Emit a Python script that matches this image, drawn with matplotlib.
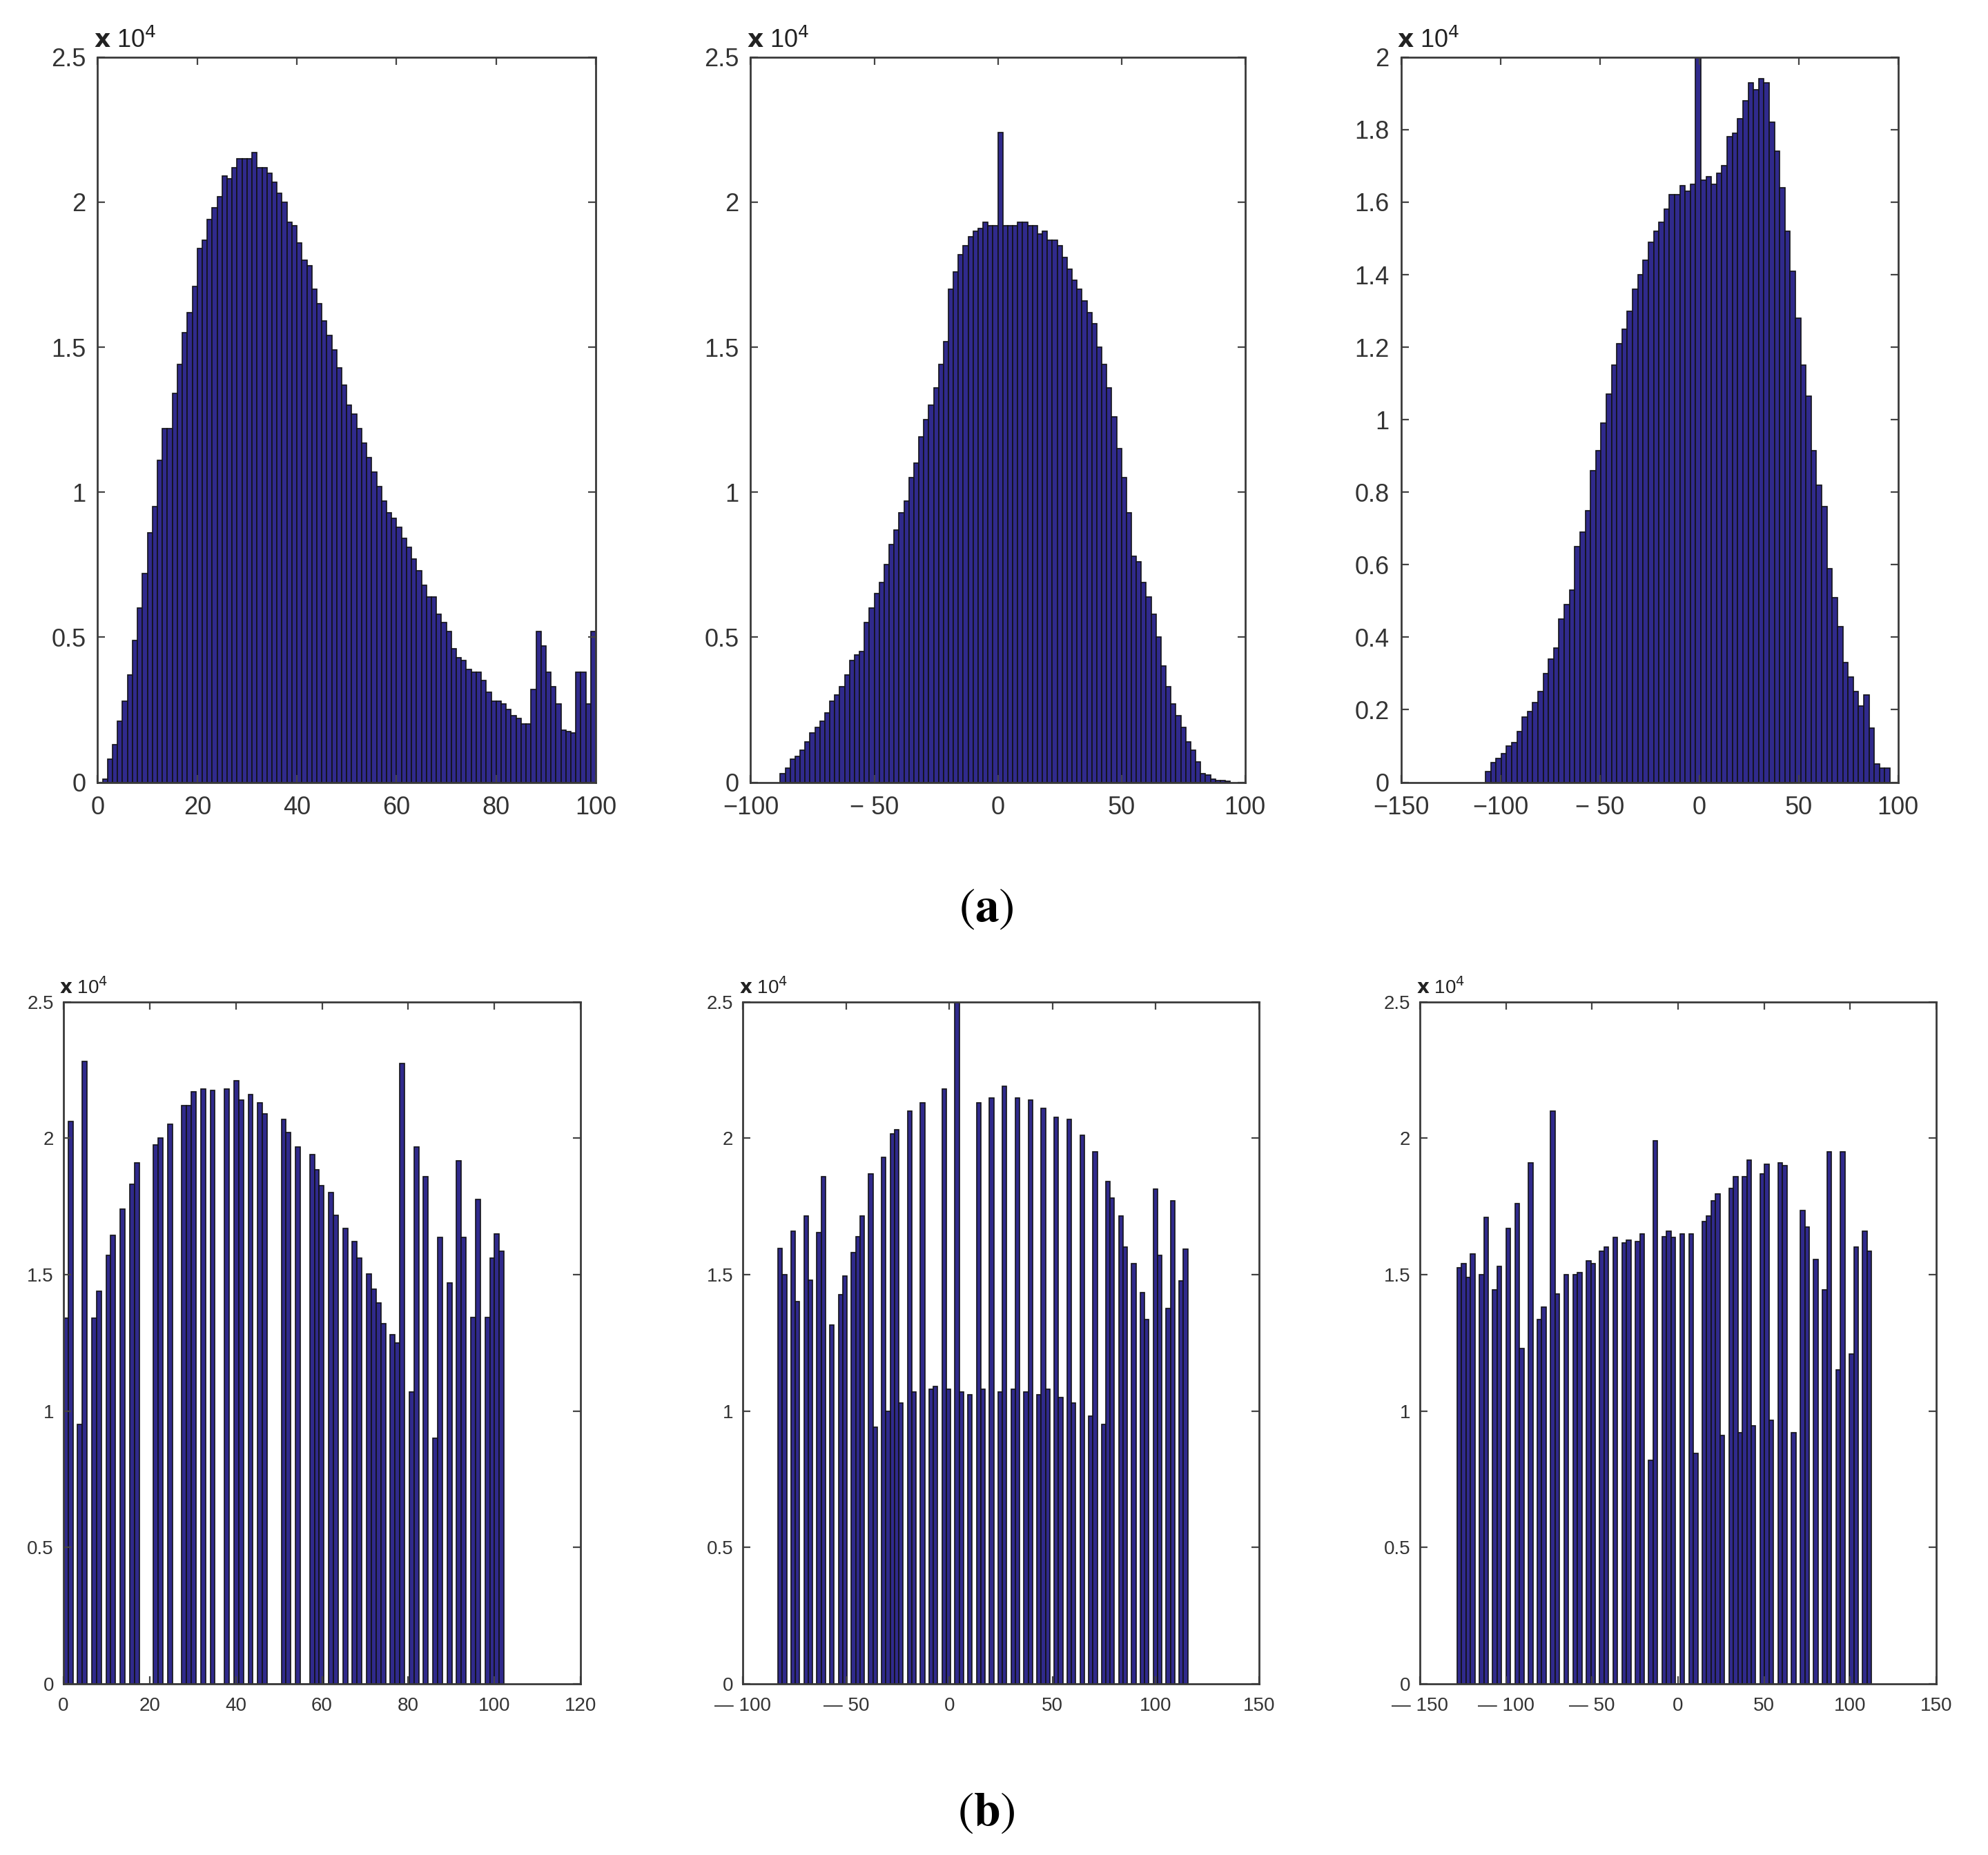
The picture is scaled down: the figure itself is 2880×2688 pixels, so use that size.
import matplotlib
matplotlib.use("Agg")
import matplotlib.pyplot as plt
import numpy as np

################################################## Data (counts in units of 10^4)

# (a) histograms, left to right
a1_range = (0, 100)
a1_counts = [
    0.0, 0.01, 0.08, 0.13, 0.21, 0.28, 0.37, 0.49, 0.60, 0.72,
    0.86, 0.95, 1.11, 1.22, 1.22, 1.34, 1.44, 1.55, 1.62, 1.71,
    1.84, 1.87, 1.94, 1.98, 2.02, 2.09, 2.08, 2.12, 2.15, 2.15,
    2.15, 2.17, 2.12, 2.12, 2.10, 2.07, 2.03, 2.00, 1.93, 1.92,
    1.86, 1.80, 1.78, 1.70, 1.65, 1.59, 1.54, 1.49, 1.43, 1.37,
    1.30, 1.27, 1.22, 1.17, 1.12, 1.07, 1.02, 0.97, 0.93, 0.91,
    0.88, 0.84, 0.81, 0.77, 0.73, 0.68, 0.64, 0.64, 0.58, 0.55,
    0.52, 0.46, 0.43, 0.42, 0.39, 0.38, 0.38, 0.35, 0.31, 0.28,
    0.28, 0.27, 0.25, 0.23, 0.22, 0.20, 0.20, 0.32, 0.52, 0.47,
    0.38, 0.33, 0.27, 0.18, 0.175, 0.17, 0.38, 0.38, 0.27, 0.52,
]

a2_range = (-88, 94)
a2_counts = [
    0.03, 0.05, 0.08, 0.09, 0.11, 0.14, 0.17, 0.19, 0.21, 0.24,
    0.28, 0.30, 0.33, 0.37, 0.42, 0.44, 0.45, 0.55, 0.60, 0.65,
    0.69, 0.75, 0.82, 0.87, 0.93, 0.97, 1.05, 1.10, 1.19, 1.25,
    1.30, 1.36, 1.44, 1.52, 1.70, 1.76, 1.82, 1.85, 1.88, 1.90,
    1.91, 1.93, 1.92, 1.92, 2.24, 1.92, 1.92, 1.92, 1.93, 1.93,
    1.92, 1.92, 1.89, 1.90, 1.87, 1.87, 1.85, 1.81, 1.77, 1.73,
    1.70, 1.66, 1.62, 1.58, 1.50, 1.44, 1.36, 1.26, 1.15, 1.05,
    0.93, 0.78, 0.76, 0.69, 0.64, 0.58, 0.50, 0.40, 0.33, 0.27,
    0.23, 0.19, 0.14, 0.11, 0.07, 0.03, 0.025, 0.01, 0.005, 0.005,
    0.003,
]

a3_range = (-107.5, 96)
a3_counts = [
    0.03, 0.055, 0.065, 0.08, 0.10, 0.11, 0.14, 0.18, 0.195, 0.22,
    0.25, 0.30, 0.34, 0.37, 0.45, 0.49, 0.53, 0.65, 0.69, 0.75,
    0.86, 0.915, 0.99, 1.07, 1.15, 1.21, 1.25, 1.30, 1.36, 1.40,
    1.44, 1.49, 1.52, 1.545, 1.58, 1.62, 1.62, 1.645, 1.63, 1.65,
    2.20, 1.66, 1.67, 1.65, 1.68, 1.70, 1.78, 1.79, 1.83, 1.88,
    1.93, 1.91, 1.94, 1.93, 1.82, 1.74, 1.64, 1.52, 1.41, 1.28,
    1.15, 1.065, 0.915, 0.82, 0.76, 0.59, 0.51, 0.43, 0.33, 0.29,
    0.25, 0.21, 0.24, 0.15, 0.05, 0.04, 0.04,
]

# (b) histograms, left to right (zeros are the empty bins)
b1_range = (0, 102.2)
b1_counts = [
    1.34, 2.06, 0, 0.95, 2.28, 0, 1.34, 1.44, 0, 1.57,
    1.645, 0, 1.74, 0, 1.83, 1.91, 0, 0, 0, 1.975,
    2.0, 0, 2.05, 0, 0, 2.12, 2.12, 2.17, 0, 2.18,
    0, 2.175, 0, 0, 2.18, 0, 2.21, 2.14, 0, 2.16,
    0, 2.13, 2.09, 0, 0, 0, 2.07, 2.02,
    0, 1.967, 0, 0, 1.94, 1.884, 1.826, 0, 1.80, 1.717,
    0, 1.67, 0, 1.62, 1.56, 0, 1.503, 1.446, 1.397, 1.32,
    0, 1.28, 1.25, 2.273, 0, 1.07, 1.967, 0, 1.86, 0,
    0.90, 1.635, 0, 1.47, 0, 1.917, 1.635, 0, 1.344, 1.776,
    0, 1.344, 1.56, 1.65, 1.585,
]

b2_range = (-83, 115.5)
b2_counts = [
    1.596, 1.50, 0, 1.66, 1.40, 0, 1.715, 1.48, 0, 1.655,
    1.86, 0, 1.315, 0, 1.426, 1.495, 0, 1.58, 1.64, 1.715,
    0, 1.87, 0.94, 0, 1.93, 1.0, 2.016, 2.03, 1.03, 0,
    2.10, 1.07, 0, 2.13, 0, 1.08, 1.09, 0, 2.18, 1.08,
    0, 2.60, 1.07, 0, 1.06, 0, 2.13,
    1.08, 0, 2.147, 0, 1.07, 2.19, 0, 1.08, 2.147, 0,
    1.07, 2.14, 0, 1.06, 2.11, 1.08, 0, 2.077, 1.05, 0,
    2.07, 1.03, 0, 2.01, 0, 0.98, 1.95, 0, 0.95, 1.84,
    1.78, 0, 1.715, 1.60, 0, 1.54, 0, 1.435, 1.336, 0,
    1.814, 1.57, 0, 1.375, 1.77, 0, 1.477, 1.594,
]

b3_range = (-128.5, 112.5)
b3_counts = [
    1.525, 1.54, 1.49, 1.575, 0, 1.50, 1.71, 0, 1.445, 1.53,
    0, 1.67, 0, 1.76, 1.23, 0, 1.91, 0, 1.335, 1.38,
    0, 2.10, 1.43, 0, 1.50, 0, 1.50, 1.507, 0, 1.55,
    1.54, 0, 1.585, 1.60, 0, 1.635, 0, 1.615, 1.625, 0,
    1.62, 1.65, 0, 0.82, 1.99, 0, 1.64, 1.66,
    1.635, 0, 1.65, 0, 1.65, 0.845, 0, 1.695, 1.715, 1.77,
    1.795, 0.91, 0, 1.815, 1.86, 0.92, 1.86, 1.92, 0.945, 0,
    1.87, 1.905, 0.965, 0, 1.91, 1.90, 0, 0.92, 0, 1.735,
    1.675, 0, 1.555, 0, 1.445, 1.95, 0, 1.15, 1.95, 0,
    1.21, 1.60, 0, 1.66, 1.585,
]

# axis ticks and tick labels
a_xticks = [
    [0, 20, 40, 60, 80, 100],
    [-100, -50, 0, 50, 100],
    [-150, -100, -50, 0, 50, 100],
]
a_xlabels = [
    ["0", "20", "40", "60", "80", "100"],
    ["\u2212100", "\u2212 50", "0", "50", "100"],
    ["\u2212150", "\u2212100", "\u2212 50", "0", "50", "100"],
]
b_xticks = [
    [0, 20, 40, 60, 80, 100, 120],
    [-100, -50, 0, 50, 100, 150],
    [-150, -100, -50, 0, 50, 100, 150],
]
b_xlabels = [
    ["0", "20", "40", "60", "80", "100", "120"],
    ["\u2014 100", "\u2014 50", "0", "50", "100", "150"],
    ["\u2014 150", "\u2014 100", "\u2014 50", "0", "50", "100", "150"],
]
yticks_25 = [0, 0.5, 1, 1.5, 2, 2.5]
ylabels_25 = ["0", "0.5", "1", "1.5", "2", "2.5"]
yticks_2 = [0, 0.2, 0.4, 0.6, 0.8, 1, 1.2, 1.4, 1.6, 1.8, 2]
ylabels_2 = ["0", "0.2", "0.4", "0.6", "0.8", "1", "1.2", "1.4", "1.6", "1.8", "2"]

################################################## Style

BAR_FACE = "#302a8c"
BAR_EDGE = "#121218"
TEXT_COLOR = "#333333"
plt.rcParams["font.family"] = ["Liberation Sans", "DejaVu Sans"]


def draw_hist(ax, counts, bin_range, xlim, ylim, xticks, xlabels, yticks, ylabels,
              fs, ypad):
    counts = np.array(counts, dtype=float)
    edges = np.linspace(bin_range[0], bin_range[1], len(counts) + 1)
    ax.bar(edges[:-1], counts, width=np.diff(edges), align="edge",
           color=BAR_FACE, edgecolor=BAR_EDGE, linewidth=0.6)

    ax.set_xlim(*xlim)
    ax.set_ylim(*ylim)
    ax.set_xticks(xticks)
    ax.set_xticklabels(xlabels)
    ax.set_yticks(yticks)
    ax.set_yticklabels(ylabels)

    ax.tick_params(direction="in", top=True, right=True, length=4, width=0.8,
                   colors="#444444", labelcolor=TEXT_COLOR, labelsize=fs)
    ax.tick_params(axis="x", pad=7)
    ax.tick_params(axis="y", pad=ypad)
    for sp in ax.spines.values():
        sp.set_linewidth(1.0)
        sp.set_color("#3a3a3a")

    ax.annotate(r"$\mathbf{x}$ 10$^{4}$", xy=(0, 1), xycoords="axes fraction",
                xytext=(-2, 2), textcoords="offset points", ha="left", va="bottom",
                fontsize=fs, color="#222222", math_fontfamily="dejavusans")


################################################## Main script

fig = plt.figure(figsize=(14.4, 13.44), dpi=200)

a_rects = [
    [0.0491, 0.5783, 0.2506, 0.3909],
    [0.3776, 0.5783, 0.2487, 0.3909],
    [0.7047, 0.5783, 0.2500, 0.3909],
]
b_rects = [
    [0.0319, 0.0923, 0.2602, 0.3677],
    [0.3737, 0.0923, 0.2596, 0.3677],
    [0.7143, 0.0923, 0.2596, 0.3677],
]

a_data = [(a1_counts, a1_range), (a2_counts, a2_range), (a3_counts, a3_range)]
a_xlims = [(0, 100), (-100, 100), (-150, 100)]
a_ylims = [(0, 2.5), (0, 2.5), (0, 2.0)]
a_yt = [(yticks_25, ylabels_25), (yticks_25, ylabels_25), (yticks_2, ylabels_2)]

for i in range(3):
    ax = fig.add_axes(a_rects[i])
    counts, rng = a_data[i]
    draw_hist(ax, counts, rng, a_xlims[i], a_ylims[i], a_xticks[i], a_xlabels[i],
              a_yt[i][0], a_yt[i][1], fs=13, ypad=6)

b_data = [(b1_counts, b1_range), (b2_counts, b2_range), (b3_counts, b3_range)]
b_xlims = [(0, 120), (-100, 150), (-150, 150)]

for i in range(3):
    ax = fig.add_axes(b_rects[i])
    counts, rng = b_data[i]
    draw_hist(ax, counts, rng, b_xlims[i], (0, 2.5), b_xticks[i], b_xlabels[i],
              yticks_25, ylabels_25, fs=10, ypad=5)

fig.text(0.496, 0.510, r"$(\mathbf{a})$", ha="center", va="center", fontsize=25,
         math_fontfamily="stix", color="black")
fig.text(0.496, 0.0226, r"$(\mathbf{b})$", ha="center", va="center", fontsize=25,
         math_fontfamily="stix", color="black")

plt.savefig("out.png", dpi=200, facecolor="white")
